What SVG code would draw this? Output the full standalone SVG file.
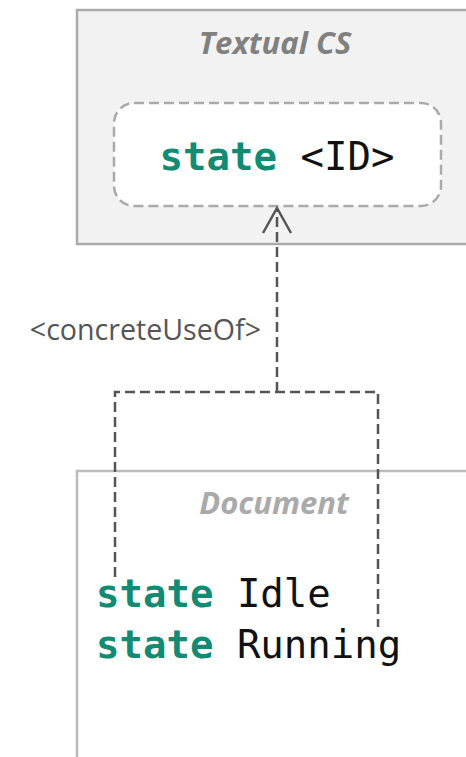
<svg xmlns="http://www.w3.org/2000/svg" width="466" height="757" viewBox="0 0 466 757">
<style>
.title{font-family:"Open Sans","Noto Sans",sans-serif;font-weight:bold;font-style:italic;text-anchor:middle}
.code{font-family:"DejaVu Sans Mono","Liberation Mono",monospace;font-size:39px;fill:#111}
.kw{fill:#138a72;font-weight:bold}
.conn{fill:none;stroke:#555;stroke-width:2.5;stroke-dasharray:10 5}
.lbl{font-family:"Open Sans","Noto Sans",sans-serif;font-size:28.6px;fill:#555;text-anchor:end}
</style>
<g id="textual-cs">
<rect x="77" y="10" width="420" height="234" fill="#f2f2f2" stroke="#aaa" stroke-width="2.5"/>
<text class="title" x="275" y="54" font-size="31" fill="#808080">Textual CS</text>
</g>
<g id="state-template">
<rect x="114" y="103" width="327" height="103" rx="20" fill="#fff" stroke="#aaa" stroke-width="2.5" stroke-dasharray="10 5"/>
<text class="code" x="277" y="170" text-anchor="middle"><tspan class="kw">state</tspan> &lt;ID&gt;</text>
</g>
<g id="document">
<rect x="77" y="471" width="420" height="300" fill="#fff" stroke="#bbb" stroke-width="2.5"/>
<text class="title" x="274" y="514" font-size="31" fill="#aaa">Document</text>
</g>
<g id="connectors">
<path class="conn" d="M115 577 V392 H378 V627"/>
<path class="conn" d="M277 392 V209"/>
<path d="M263 233 L277 208 L291 233" fill="none" stroke="#555" stroke-width="2.5"/>
<text class="lbl" x="261" y="340">&lt;concreteUseOf&gt;</text>
</g>
<g id="code-lines">
<text class="code" x="96" y="607"><tspan class="kw">state</tspan> Idle</text>
<text class="code" x="96" y="658"><tspan class="kw">state</tspan> Running</text>
</g>
</svg>
